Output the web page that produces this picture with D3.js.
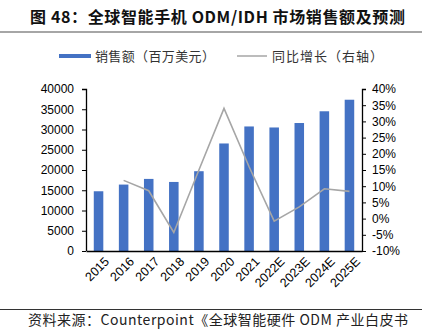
<!DOCTYPE html>
<html>
<head>
<meta charset="utf-8">
<script src="https://cdn.jsdelivr.net/npm/d3@7"></script>
<style>
  body { margin: 0; background: #fff; }
  text { font-family: "Liberation Sans", Arial, sans-serif; }
  .cjk { font-family: "Noto Sans CJK SC", sans-serif; }
</style>
</head>
<body>
<div id="chart"></div>
<script>
const years = ["2015", "2016", "2017", "2018", "2019", "2020", "2021", "2022E", "2023E", "2024E", "2025E"]
const sales = [14750, 16400, 17800, 17050, 19700, 26550, 30750, 30500, 31600, 34500, 37350]
// yoy growth, first year has no value
const growth = [null, 11.8, 8.6, -4.3, 15.0, 34.0, 16.0, -0.8, 3.6, 9.2, 8.4]
const leftTicks = [0, 5000, 10000, 15000, 20000, 25000, 30000, 35000, 40000]
const rightTicks = [-10, -5, 0, 5, 10, 15, 20, 25, 30, 35, 40]

const svgWidth = 430
const svgHeight = 331

let margin = { top: 89, right: 68, bottom: 80, left: 86 }
let width = svgWidth - margin.left - margin.right
let height = svgHeight - margin.top - margin.bottom

let svg = d3.select("#chart")
  .append("svg")
  .attr("width", svgWidth)
  .attr("height", svgHeight)

// title
svg.append("text")
  .attr("class", "cjk")
  .attr("x", 30)
  .attr("y", 23)
  .attr("font-size", "16px")
  .attr("font-weight", "bold")
  .attr("fill", "#111")
  .attr("textLength", 375)
  .attr("lengthAdjust", "spacing")
  .text("图 48：全球智能手机 ODM/IDH 市场销售额及预测")

svg.append("line")
  .attr("x1", 0).attr("x2", 422)
  .attr("y1", 32).attr("y2", 32)
  .attr("stroke", "#888").attr("stroke-width", 1.5)

// legend
svg.append("rect")
  .attr("x", 59).attr("y", 54)
  .attr("width", 32).attr("height", 4)
  .attr("fill", "#4472c4")
svg.append("text")
  .attr("class", "cjk")
  .attr("x", 95).attr("y", 60.5)
  .attr("font-size", "13px")
  .attr("fill", "#333")
  .attr("textLength", 120)
  .attr("lengthAdjust", "spacing")
  .text("销售额（百万美元）")
svg.append("line")
  .attr("x1", 237).attr("x2", 267)
  .attr("y1", 56).attr("y2", 56)
  .attr("stroke", "#a6a6a6").attr("stroke-width", 1.5)
svg.append("text")
  .attr("class", "cjk")
  .attr("x", 272).attr("y", 60.5)
  .attr("font-size", "13px")
  .attr("fill", "#333")
  .attr("textLength", 111)
  .attr("lengthAdjust", "spacing")
  .text("同比增长（右轴）")

let chartGroup = svg.append("g")
  .attr("transform", `translate(${margin.left}, ${margin.top})`)

let xScale = d3.scaleBand()
  .domain(years)
  .range([0, width])
  .paddingInner(0.62)
  .paddingOuter(0.31)

let yLeft = d3.scaleLinear().domain([0, 40000]).range([height, 0])
let yRight = d3.scaleLinear().domain([-10, 40]).range([height, 0])

chartGroup.selectAll("rect.bar")
  .data(years)
  .enter()
  .append("rect")
  .attr("class", "bar")
  .attr("x", d => xScale(d))
  .attr("y", (d, i) => yLeft(sales[i]))
  .attr("width", xScale.bandwidth())
  .attr("height", (d, i) => height - yLeft(sales[i]))
  .attr("fill", "#4472c4")

let line = d3.line()
  .defined(d => d.v !== null)
  .x(d => xScale(d.year) + xScale.bandwidth() / 2)
  .y(d => yRight(d.v))

chartGroup.append("path")
  .datum(years.map((y, i) => ({ year: y, v: growth[i] })))
  .attr("d", line)
  .attr("fill", "none")
  .attr("stroke", "#a6a6a6")
  .attr("stroke-width", 1.6)

// axes
let leftAxis = d3.axisLeft(yLeft).tickValues(leftTicks).tickSize(4).tickPadding(8)
  .tickFormat(d3.format("d"))
let rightAxis = d3.axisRight(yRight).tickValues(rightTicks).tickSize(4).tickPadding(6)
  .tickFormat(d => d + "%")
let bottomAxis = d3.axisBottom(xScale).tickSize(0).tickPadding(6)

let gl = chartGroup.append("g").call(leftAxis)
let gr = chartGroup.append("g").attr("transform", `translate(${width}, 0)`).call(rightAxis)
let gb = chartGroup.append("g").attr("transform", `translate(0, ${height})`).call(bottomAxis)

;[gl, gr, gb].forEach(g => {
  g.selectAll("path.domain").attr("stroke", "#000").attr("stroke-width", 1.3)
  g.selectAll("line").attr("stroke", "#000")
  g.selectAll("text")
    .attr("font-size", "12px")
    .attr("fill", "#000")
    .style("font-family", "'Liberation Sans', Arial, sans-serif")
})
gl.select("path.domain").attr("d", `M-4,0.5H0.5V${height}`)
gr.select("path.domain").attr("d", `M4,0.5H0.5V${height}`)

gb.selectAll("text")
  .attr("text-anchor", "end")
  .attr("dy", "0.35em")
  .attr("font-size", "12.5px")
  .attr("transform", "translate(4,4) rotate(-45)")

// source
svg.append("line")
  .attr("x1", 0).attr("x2", 422)
  .attr("y1", 309.5).attr("y2", 309.5)
  .attr("stroke", "#333").attr("stroke-width", 1.2)

svg.append("text")
  .attr("class", "cjk")
  .attr("x", 28).attr("y", 325)
  .attr("font-size", "14px")
  .attr("fill", "#222")
  .attr("textLength", 380)
  .attr("lengthAdjust", "spacing")
  .text("资料来源：Counterpoint《全球智能硬件 ODM 产业白皮书")
</script>
</body>
</html>
